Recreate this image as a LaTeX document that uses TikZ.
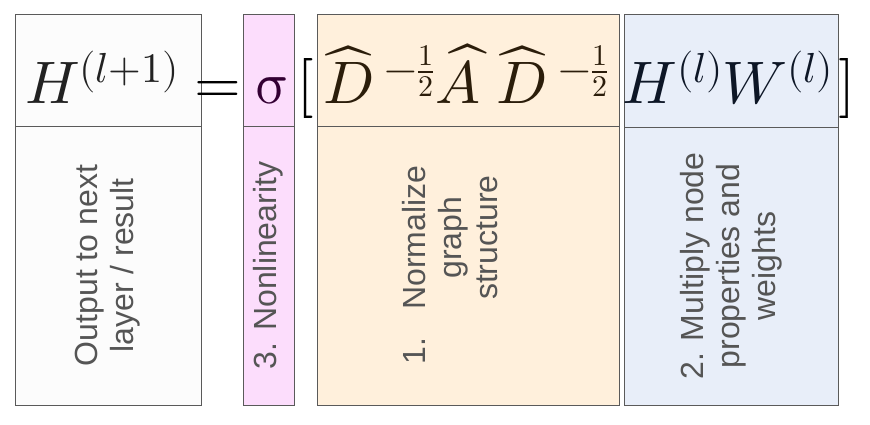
\documentclass[tikz,border=0pt]{standalone}
\usepackage{fontspec}
\usepackage{unicode-math}
\setmainfont{Liberation Sans}
\setmathfont{Latin Modern Math}
\usepackage{xcolor}
\usepackage{tikz}
\definecolor{linegray}{HTML}{5A5A5A}
\definecolor{labelgray}{HTML}{555555}
\definecolor{outfill}{HTML}{FCFCFC}
\definecolor{sigfill}{HTML}{FCDDFC}
\definecolor{normfill}{HTML}{FFF0DC}
\definecolor{multfill}{HTML}{E8EEF9}
\definecolor{outink}{HTML}{222222}
\definecolor{sigink}{HTML}{330033}
\definecolor{normink}{HTML}{2B1D0A}
\definecolor{multink}{HTML}{0D1626}

\begin{document}
\begin{tikzpicture}[x=1pt,y=-1pt,
		cell/.style={rectangle, draw=linegray, line width=0.8pt, inner sep=0pt},
		lbl/.style={rotate=90, align=center, text=labelgray, inner sep=0pt, font=\fontsize{32}{36}\selectfont},
		eq/.style={anchor=base, inner sep=0pt, font=\fontsize{60}{66}\selectfont}]
		\useasboundingbox (0,0) rectangle (870,425);

		% Output column
		\node (OUT_H) at (108,70) [cell, fill=outfill, minimum width=186pt, minimum height=112pt] {};
		\node (OUT_B) at (108,265.5) [cell, fill=outfill, minimum width=186pt, minimum height=279pt] {};
		\node (OUT_L) at (OUT_B.center) [lbl] {Output to next\\layer / result};

		% Nonlinearity column
		\node (SIG_H) at (268.5,70) [cell, fill=sigfill, minimum width=51pt, minimum height=112pt] {};
		\node (SIG_B) at (268.5,265.5) [cell, fill=sigfill, minimum width=51pt, minimum height=279pt] {};
		\node (SIG_L) at (SIG_B.center) [lbl] {3. Nonlinearity};

		% Normalization column
		\node (NORM_H) at (468,70) [cell, fill=normfill, minimum width=302pt, minimum height=112pt] {};
		\node (NORM_B) at (468,265.5) [cell, fill=normfill, minimum width=302pt, minimum height=279pt] {};
		\node (NORM_L) at (454,265) [lbl] {\begin{tabular}{@{}l@{\hspace{28pt}}c@{}}1. & Normalize\\ & graph\\ & structure\end{tabular}};

		% Multiplication column
		\node (MULT_H) at (731,70.5) [cell, fill=multfill, minimum width=214pt, minimum height=113pt] {};
		\node (MULT_B) at (731,266) [cell, fill=multfill, minimum width=214pt, minimum height=278pt] {};
		\node (MULT_L) at (MULT_B.center) [lbl] {2. Multiply node\\properties and\\weights};

		% The propagation rule
		\node (EQ_OUT) at (102,104) [eq, text=outink] {$H^{(l+1)}$};
		\node (EQ_IS) at (218,104) [eq, text=black] {$=$};
		\node (EQ_SIG) at (272,104) [eq, text=sigink] {$\symup{\sigma}$};
		\node (EQ_OPEN) at (306,104) [eq, text=black] {$[$};
		\node (EQ_NORM) at (466,104) [eq, text=normink] {$\widehat{D}^{\;-\frac{1}{2}}\widehat{A}\;\widehat{D}^{\;-\frac{1}{2}}$};
		\node (EQ_MULT) at (728,104) [eq, text=multink] {$H^{(l)}W^{(l)}$};
		\node (EQ_CLOSE) at (847,104) [eq, text=black] {$]$};
\end{tikzpicture}
\end{document}
